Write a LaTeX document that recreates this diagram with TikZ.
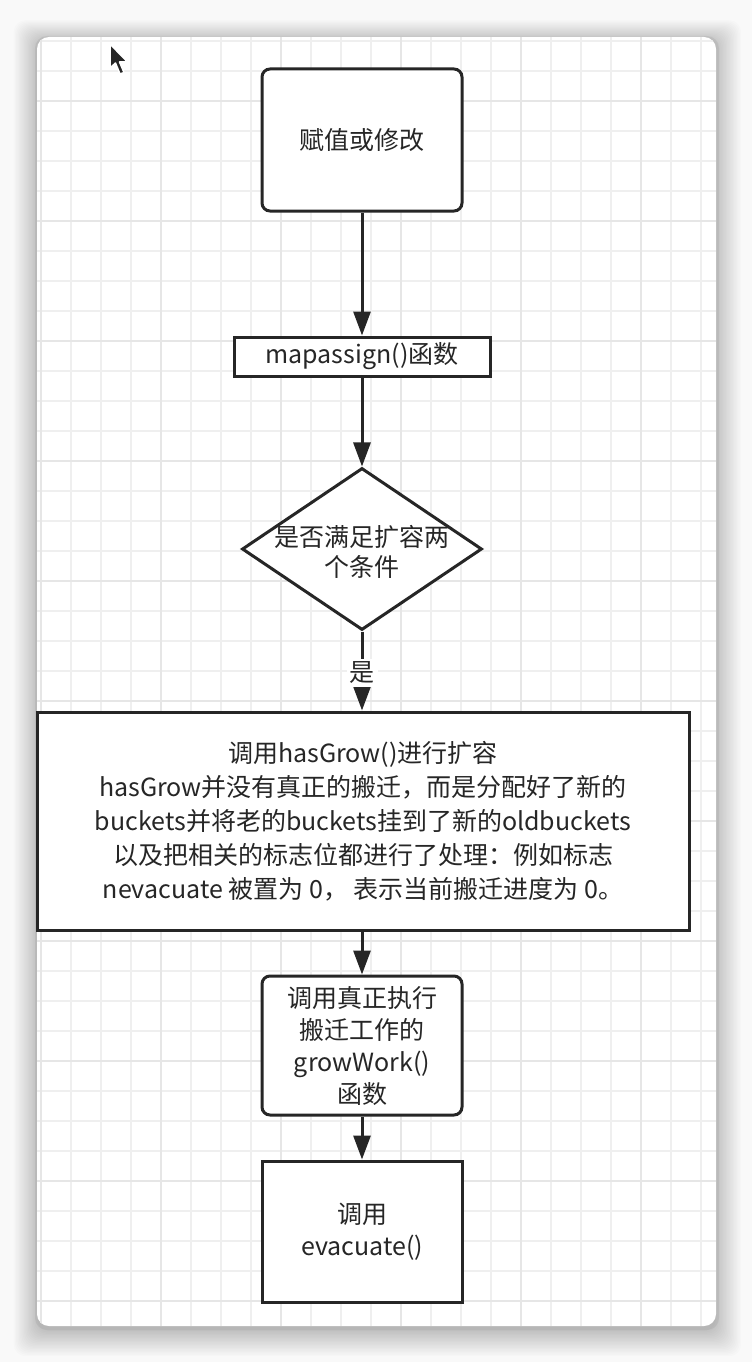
\documentclass[tikz,border=0pt]{standalone}
\usepackage{fontspec}
\setmainfont{Noto Sans CJK SC}
\usetikzlibrary{arrows.meta,shapes.geometric}
\definecolor{bgc}{HTML}{F9F9F9}
\definecolor{gminor}{HTML}{EFEFEF}
\definecolor{gmajor}{HTML}{E6E6E6}
\definecolor{ink}{HTML}{262626}
\begin{document}
\begin{tikzpicture}[x=1pt,y=-1pt,
  box/.style={draw=ink, line width=3pt, fill=white, text=ink, align=center, inner sep=0pt, font=\fontsize{25}{34}\selectfont},
  rbox/.style={box, rounded corners=8pt},
  dia/.style={draw=ink, line width=3pt, fill=white, diamond, inner sep=0pt},
  label/.style={text=ink, align=center, inner sep=0pt, font=\fontsize{25}{30}\selectfont},
  flow/.style={draw=ink, line width=3pt, -{Triangle[length=24pt,width=17pt]}},
]
\useasboundingbox (0,0) rectangle (752,1362);
\fill[bgc] (0,0) rectangle (752,1362);
% card shadow
\foreach \i in {0,...,18} {
  \fill[black, opacity=0.011, rounded corners=12pt] (37-\i*1.3, 37+3-\i*1.1) rectangle (716+\i*1.4, 1326+5+\i*1.4);
}
\fill[black, opacity=0.05, rounded corners=12pt] (35,36) rectangle (719,1330);
% card
\fill[white, rounded corners=12pt] (37,37) rectangle (716,1326);
\begin{scope}
  \clip[rounded corners=12pt] (37,37) rectangle (716,1326);
  \foreach \x in {41,71,...,716} \draw[gminor, line width=1.3pt] (\x,37) -- (\x,1326);
  \foreach \y in {41,71,...,1326} \draw[gminor, line width=1.3pt] (37,\y) -- (716,\y);
  \foreach \x in {41,161,...,716} \draw[gmajor, line width=1.8pt] (\x,37) -- (\x,1326);
  \foreach \y in {101,221,...,1326} \draw[gmajor, line width=1.8pt] (37,\y) -- (716,\y);
\end{scope}
% cursor
\filldraw[fill=ink, draw=white, line width=1.5pt, line join=round]
  (110,44) -- (110,68) -- (115.5,63) -- (120,74) -- (124,72.5) -- (119.5,62) -- (127.5,62) -- cycle;
% nodes
\node[rbox, minimum width=200pt, minimum height=142pt] (n1) at (362,140) {赋值或修改};
\node[box, minimum width=256pt, minimum height=39pt] (n2) at (362,356.5) {mapassign()函数};
\node[dia, minimum width=240pt, minimum height=162pt] (n3) at (362,549) {};
\node[label] (n3t) at (362,552) {是否满足扩容两\\个条件};
\node[box, minimum width=652pt, minimum height=218pt] (n4) at (363,821) {调用hasGrow()进行扩容\\hasGrow并没有真正的搬迁，而是分配好了新的\\buckets并将老的buckets挂到了新的oldbuckets\\以及把相关的标志位都进行了处理：例如标志\\nevacuate 被置为 0， 表示当前搬迁进度为 0。};
\node[rbox, minimum width=200pt, minimum height=139pt, font=\fontsize{25}{32}\selectfont] (n5) at (362,1045.5) {调用真正执行\\搬迁工作的\\growWork()\\函数};
\node[box, minimum width=200pt, minimum height=141pt, font=\fontsize{25}{32}\selectfont] (n6) at (362,1231.5) {调用\\evacuate()};
% connectors
\draw[flow] (n1) -- (n2);
\draw[flow] (n2) -- (n3);
\draw[flow] (n3.south) -- node[pos=0.52, fill=white, text=ink, inner sep=3pt, font=\fontsize{25}{30}\selectfont] (lyes) {是} (n3.south |- n4.north);
\draw[flow] (n4.south -| n5.north) -- (n5.north);
\draw[flow] (n5) -- (n6);
\end{tikzpicture}
\end{document}
